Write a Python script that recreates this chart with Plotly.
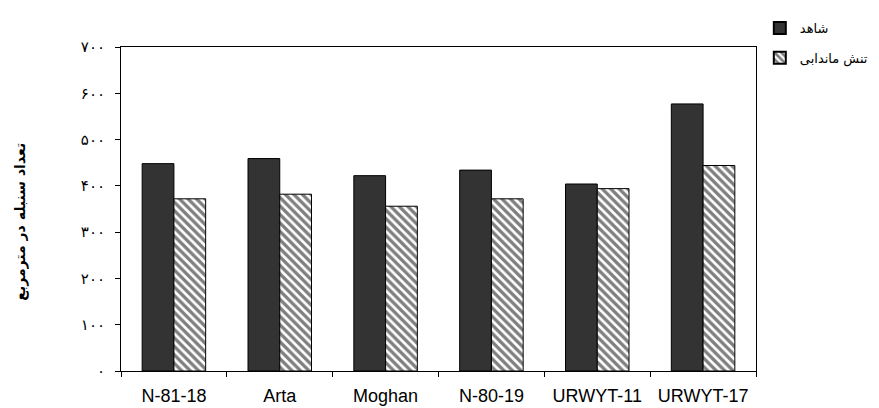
import plotly.graph_objects as go

categories = ["N-81-18", "Arta", "Moghan", "N-80-19", "URWYT-11", "URWYT-17"]
control = [448, 459, 422, 434, 404, 577]
waterlogging = [372, 382, 356, 372, 394, 444]
series_names = ["شاهد", "تنش ماندابی"]
ytick_vals = [0, 100, 200, 300, 400, 500, 600, 700]
ytick_text = ["۰", "۱۰۰", "۲۰۰", "۳۰۰", "۴۰۰", "۵۰۰", "۶۰۰", "۷۰۰"]
y_title = "تعداد سنبله در مترمربع"

fig = go.Figure()
fig.add_trace(go.Bar(
    x=categories, y=control, name=series_names[0], legendgroup="a",
    marker=dict(color="#333333", line=dict(color="#000000", width=1)),
))
fig.add_trace(go.Bar(
    x=categories, y=waterlogging, name=series_names[1], legendgroup="b",
    marker=dict(color="#ffffff", line=dict(color="#000000", width=1),
                pattern=dict(shape="\\", fgcolor="#000000", bgcolor="#ffffff",
                             size=6, solidity=0.55)),
))

fig.add_annotation(
    text="<b>" + y_title + "</b>", textangle=-90,
    xref="paper", yref="paper", x=-0.158, y=0.46,
    xanchor="center", yanchor="middle", showarrow=False,
    font=dict(family="DejaVu Sans, sans-serif", size=14, color="black"),
)

fig.update_layout(
    width=879, height=408,
    margin=dict(l=113, r=131, t=39, b=45, autoexpand=False),
    paper_bgcolor="white", plot_bgcolor="white",
    barmode="group", bargap=0.4, bargroupgap=0,
    font=dict(family="Liberation Sans, Arial, sans-serif", size=14, color="black"),
    showlegend=True,
    legend=dict(x=1.006, y=1.105, xanchor="left", yanchor="top",
                font=dict(family="DejaVu Sans, sans-serif", size=13),
                tracegroupgap=10, traceorder="grouped", itemsizing="constant",
                bgcolor="rgba(0,0,0,0)"),
    xaxis=dict(showline=True, linecolor="black", linewidth=1, mirror=True,
               ticks="outside", tickson="boundaries", ticklen=5,
               tickcolor="black", showgrid=False, ticklabelstandoff=8,
               tickfont=dict(family="Liberation Sans, Arial, sans-serif", size=18)),
    yaxis=dict(range=[0, 700], showline=True, linecolor="black", linewidth=1,
               mirror=True, ticks="outside", ticklen=5, tickcolor="black",
               showgrid=False, zeroline=False, ticklabelstandoff=7,
               tickvals=ytick_vals, ticktext=ytick_text,
               tickfont=dict(family="DejaVu Sans, sans-serif", size=15)),
)

fig.write_html("out.html")
